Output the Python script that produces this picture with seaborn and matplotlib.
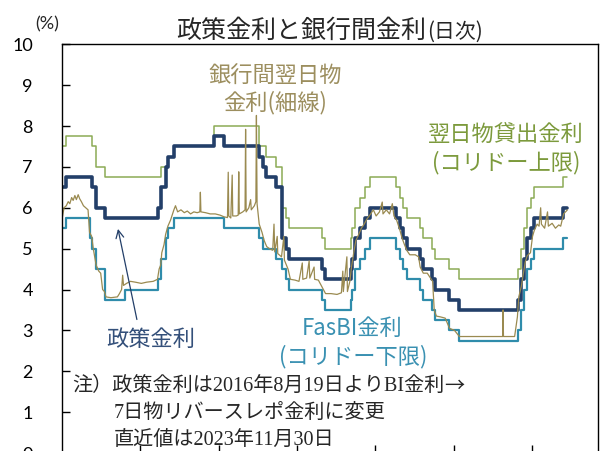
import pandas as pd
import matplotlib
matplotlib.use("Agg")
import matplotlib.pyplot as plt
import matplotlib.dates as mdates
import seaborn as sns

# Policy rate (BI rate, from 2016-08-19 the 7-day reverse repo rate), step changes
policy_dates = ["2011-01-01", "2011-02-04", "2011-10-11", "2011-11-10", "2012-02-09",
                "2013-06-13", "2013-07-11", "2013-08-29", "2013-09-12", "2013-11-12",
                "2014-11-18", "2015-02-17", "2016-01-14", "2016-02-18", "2016-03-17",
                "2016-06-16", "2016-08-19", "2016-09-22", "2016-10-20", "2017-08-22",
                "2017-09-22", "2018-05-17", "2018-05-30", "2018-06-29", "2018-08-15",
                "2018-09-27", "2018-11-15", "2019-07-18", "2019-08-22", "2019-09-19",
                "2019-10-24", "2020-02-20", "2020-03-19", "2020-06-18", "2020-07-16",
                "2020-11-19", "2021-02-18", "2022-08-23", "2022-09-22", "2022-10-20",
                "2022-11-17", "2022-12-22", "2023-01-19", "2023-10-19", "2023-11-30"]
policy_rates = [6.50, 6.75, 6.50, 6.00, 5.75,
                6.00, 6.50, 7.00, 7.25, 7.50,
                7.75, 7.50, 7.25, 7.00, 6.75,
                6.50, 5.25, 5.00, 4.75, 4.50,
                4.25, 4.50, 4.75, 5.25, 5.50,
                5.75, 6.00, 5.75, 5.50, 5.25,
                5.00, 4.75, 4.50, 4.25, 4.00,
                3.75, 3.50, 3.75, 4.25, 4.75,
                5.25, 5.50, 5.75, 6.00, 6.00]

# Overnight lending facility (corridor upper bound)
upper_dates = ["2011-01-01", "2011-02-04", "2011-10-11", "2011-11-10", "2012-02-09",
               "2013-07-11", "2013-09-12", "2013-11-12", "2014-11-18", "2016-01-14",
               "2016-03-17", "2016-06-16", "2016-08-19", "2016-09-22", "2016-10-20",
               "2017-08-22", "2017-09-22", "2018-05-17", "2018-05-30", "2018-06-29",
               "2018-08-15", "2018-09-27", "2018-11-15", "2019-07-18", "2019-08-22",
               "2019-09-19", "2019-10-24", "2020-02-20", "2020-03-19", "2020-06-18",
               "2020-07-16", "2020-11-19", "2021-02-18", "2022-08-23", "2022-09-22",
               "2022-10-20", "2022-11-17", "2022-12-22", "2023-01-19", "2023-10-19",
               "2023-11-30"]
upper_rates = [7.50, 7.75, 7.50, 7.00, 6.75,
               7.00, 7.25, 7.50, 8.00, 7.50,
               7.25, 7.00, 6.00, 5.75, 5.50,
               5.25, 5.00, 5.25, 5.50, 6.00,
               6.25, 6.50, 6.75, 6.50, 6.25,
               6.00, 5.75, 5.50, 5.25, 5.00,
               4.75, 4.50, 4.25, 4.50, 5.00,
               5.50, 6.00, 6.25, 6.50, 6.75,
               6.75]

# FasBI / deposit facility (corridor lower bound)
lower_dates = ["2011-01-01", "2011-02-04", "2011-09-15", "2011-10-11", "2011-11-10",
               "2012-02-09", "2012-08-09", "2013-06-13", "2013-07-11", "2013-08-29",
               "2013-09-12", "2013-11-12", "2015-02-17", "2016-01-14", "2016-02-18",
               "2016-06-16", "2016-08-19", "2016-09-22", "2016-10-20", "2017-08-22",
               "2017-09-22", "2018-05-17", "2018-05-30", "2018-06-29", "2018-08-15",
               "2018-09-27", "2018-11-15", "2019-07-18", "2019-08-22", "2019-09-19",
               "2019-10-24", "2020-02-20", "2020-03-19", "2020-06-18", "2020-07-16",
               "2020-11-19", "2021-02-18", "2022-08-23", "2022-09-22", "2022-10-20",
               "2022-11-17", "2022-12-22", "2023-01-19", "2023-10-19", "2023-11-30"]
lower_rates = [5.50, 5.75, 5.25, 5.00, 4.50,
               3.75, 4.00, 4.25, 4.75, 5.25,
               5.50, 5.75, 5.50, 5.25, 5.00,
               4.75, 4.50, 4.25, 4.00, 3.75,
               3.50, 3.75, 4.00, 4.50, 4.75,
               5.00, 5.25, 5.00, 4.75, 4.50,
               4.25, 4.00, 3.75, 3.50, 3.25,
               3.00, 2.75, 3.00, 3.50, 4.00,
               4.50, 4.75, 5.00, 5.25, 5.25]

# Interbank overnight rate
ib_dates = ["2011-01-03", "2011-01-20", "2011-02-10", "2011-02-28", "2011-03-15",
            "2011-04-01", "2011-04-15", "2011-05-01", "2011-05-15", "2011-06-01",
            "2011-06-15", "2011-07-01", "2011-07-20", "2011-08-10", "2011-09-01",
            "2011-09-15", "2011-10-05", "2011-10-20", "2011-11-15", "2011-12-10",
            "2011-12-28", "2012-01-15", "2012-02-01", "2012-02-15", "2012-04-01",
            "2012-06-01", "2012-06-20", "2012-07-10", "2012-07-20", "2012-07-28",
            "2012-08-25", "2012-10-01", "2012-11-15", "2013-01-10", "2013-03-01",
            "2013-05-01", "2013-06-10", "2013-06-25", "2013-07-10", "2013-07-20",
            "2013-08-10", "2013-08-25", "2013-09-15", "2013-10-10", "2013-11-10",
            "2013-11-25", "2013-12-15", "2014-01-15", "2014-02-15", "2014-03-15",
            "2014-04-15", "2014-05-15", "2014-06-15", "2014-07-10", "2014-07-15",
            "2014-07-20", "2014-09-01", "2014-10-15", "2014-12-01", "2015-01-15",
            "2015-02-20", "2015-03-25", "2015-04-01", "2015-04-06", "2015-04-25",
            "2015-05-08", "2015-05-13", "2015-06-15", "2015-07-03", "2015-07-08",
            "2015-07-13", "2015-08-15", "2015-09-05", "2015-09-10", "2015-09-15",
            "2015-10-10", "2015-10-27", "2015-11-02", "2015-12-01", "2015-12-15",
            "2015-12-20", "2015-12-26", "2016-01-15", "2016-02-10", "2016-03-01",
            "2016-03-25", "2016-04-20", "2016-05-20", "2016-06-01", "2016-06-08",
            "2016-07-01", "2016-07-06", "2016-08-10", "2016-09-01", "2016-09-06",
            "2016-10-10", "2016-11-01", "2016-12-15", "2017-01-20", "2017-02-20",
            "2017-02-25", "2017-04-01", "2017-04-25", "2017-05-01", "2017-06-10",
            "2017-06-15", "2017-07-20", "2017-08-25", "2017-09-25", "2017-11-15",
            "2018-01-10", "2018-02-20", "2018-03-05", "2018-03-10", "2018-04-12",
            "2018-04-17", "2018-05-10", "2018-05-25", "2018-06-15", "2018-07-05",
            "2018-08-01", "2018-08-25", "2018-09-20", "2018-10-15", "2018-11-20",
            "2018-12-15", "2019-01-10", "2019-02-10", "2019-03-08", "2019-03-15",
            "2019-04-15", "2019-05-15", "2019-06-10", "2019-06-25", "2019-07-20",
            "2019-08-20", "2019-09-10", "2019-10-01", "2019-10-25", "2019-11-20",
            "2020-01-10", "2020-02-10", "2020-02-25", "2020-03-25", "2020-05-01",
            "2020-06-20", "2020-07-05", "2020-07-25", "2020-09-01", "2020-10-15",
            "2020-11-25", "2021-01-10", "2021-02-25", "2021-07-01", "2022-01-01",
            "2022-04-05", "2022-04-08", "2022-04-12", "2022-07-25", "2022-08-20",
            "2022-09-02", "2022-09-25", "2022-11-01", "2022-11-20", "2022-12-20",
            "2023-01-08", "2023-01-25", "2023-02-20", "2023-03-10", "2023-03-25",
            "2023-04-01", "2023-05-01", "2023-05-28", "2023-06-05", "2023-07-10",
            "2023-08-10", "2023-09-10", "2023-09-28", "2023-10-25", "2023-11-30"]
ib_rates = [5.75, 6.00, 6.05, 6.15, 6.10,
            6.25, 6.18, 6.30, 6.20, 6.32,
            6.22, 6.15, 6.05, 6.00, 5.95,
            5.40, 5.30, 5.00, 4.60, 4.45,
            4.40, 4.00, 3.95, 3.82, 3.80,
            3.82, 3.90, 4.00, 4.35, 4.10,
            4.15, 4.20, 4.18, 4.15, 4.18,
            4.20, 4.25, 4.50, 4.60, 4.90,
            5.10, 5.35, 5.55, 5.70, 5.95,
            6.05, 5.90, 5.95, 5.88, 5.92,
            5.85, 5.90, 5.88, 5.90, 6.38,
            5.90, 5.88, 5.85, 5.85, 5.82,
            5.78, 5.76, 6.87, 5.80, 5.75,
            6.80, 5.80, 5.80, 5.82, 6.88,
            5.85, 5.90, 5.95, 7.92, 5.90,
            6.00, 6.20, 5.95, 6.05, 6.15,
            8.26, 6.10, 5.60, 5.40, 5.20,
            5.05, 5.00, 4.96, 5.60, 4.92,
            5.30, 4.88, 4.80, 5.30, 4.72,
            4.50, 4.25, 4.23, 4.20, 4.65,
            4.25, 4.28, 4.70, 4.28, 4.55,
            4.25, 4.23, 4.05, 3.90, 3.90,
            3.88, 3.92, 4.45, 3.95, 4.80,
            3.95, 4.20, 4.55, 4.90, 5.20,
            5.35, 5.50, 5.60, 5.72, 5.85,
            5.95, 5.80, 5.90, 6.14, 5.85,
            5.95, 5.85, 6.10, 5.80, 5.70,
            5.45, 5.25, 5.10, 4.95, 4.85,
            4.85, 4.80, 4.55, 4.40, 4.40,
            4.20, 3.50, 3.35, 3.33, 3.30,
            3.05, 3.00, 2.85, 2.85, 2.85,
            2.85, 3.50, 2.85, 2.85, 3.33,
            3.82, 4.07, 4.67, 4.83, 4.90,
            5.30, 5.45, 5.60, 5.55, 6.00,
            5.60, 5.50, 5.90, 5.55, 5.62,
            5.50, 5.58, 5.55, 5.85, 5.95]

NAVY = "#233f69"
GREEN = "#8cab55"
TEAL = "#2f8cab"
OLIVE = "#9a8a50"
JP = "Noto Sans CJK JP"

sns.set_style("ticks")
plt.rcParams["font.family"] = ["Lato", JP, "DejaVu Sans"]

fig = plt.figure(figsize=(6.13, 4.51), dpi=100)
ax = fig.add_axes([62 / 613, -2 / 451, 536 / 613, 408.7 / 451])


def px(x, y):
    return x / 613, 1 - y / 451


def frame(dates, values):
    return pd.DataFrame({"date": pd.to_datetime(dates), "rate": values})


sns.lineplot(data=frame(upper_dates, upper_rates), x="date", y="rate",
             drawstyle="steps-post", color=GREEN, lw=1.1, ax=ax, legend=False)
sns.lineplot(data=frame(lower_dates, lower_rates), x="date", y="rate",
             drawstyle="steps-post", color=TEAL, lw=1.6, ax=ax, legend=False)
sns.lineplot(data=frame(policy_dates, policy_rates), x="date", y="rate",
             drawstyle="steps-post", color=NAVY, lw=2.6, ax=ax, legend=False)
sns.lineplot(data=frame(ib_dates, ib_rates), x="date", y="rate",
             color=OLIVE, lw=0.9, ax=ax, legend=False)

ax.set_xlim(pd.Timestamp("2011-01-01"), pd.Timestamp("2024-09-10"))
ax.set_ylim(0, 10)
ax.set_yticks(range(0, 11))
ax.set_xticks(pd.to_datetime([f"{y}-01-01" for y in range(2013, 2024, 2)]))
ax.set_xticklabels([])
ax.set_xlabel("")
ax.set_ylabel("")
ax.tick_params(direction="in", length=6, width=1, colors="black")
ax.tick_params(axis="y", pad=21, labelsize=13)
for s in ax.spines.values():
    s.set_visible(True)
    s.set_color("black")
    s.set_linewidth(1)

# title and unit
fig.text(*px(426, 31), "政策金利と銀行間金利", ha="right", va="center",
         fontsize=18, family=JP)
fig.text(*px(427, 32), "(日次)", ha="left", va="center", fontsize=15, family=JP)
fig.text(*px(47, 24), "(%)", ha="center", va="center", fontsize=13)

# series labels
lab = dict(ha="center", va="center", fontsize=16, family=JP)
fig.text(*px(275, 76), "銀行間翌日物", color="#9c8e5e", **lab)
fig.text(*px(275, 103), "金利(細線)", color="#9c8e5e", **lab)
fig.text(*px(506, 134), "翌日物貸出金利", color="#7c9a3c", **lab)
fig.text(*px(506, 163), "(コリドー上限)", color="#7c9a3c", **lab)
fig.text(*px(352, 328), "FasBI金利", color="#3a91b2", **lab)
fig.text(*px(353, 357), "(コリドー下限)", color="#3a91b2", **lab)
fig.text(*px(151, 339), "政策金利", color="#34507a", **lab)

ax.annotate("", xy=(mdates.date2num(pd.Timestamp("2012-06-01")), 5.55),
            xytext=(mdates.date2num(pd.Timestamp("2012-12-05")), 3.2),
            arrowprops=dict(arrowstyle="->", color=NAVY, lw=0.9, mutation_scale=14))

# note
note_font = ["Liberation Serif", JP]
note1 = fig.text(*px(72, 386), "注）政策金利は2016年8月19日よりBI金利",
                 ha="left", va="center", fontsize=14.5, family=note_font)
ax.annotate("→", xy=(1, 0.5), xycoords=note1, ha="left", va="center",
            fontsize=14.5, family=JP)
fig.text(*px(114, 413), "7日物リバースレポ金利に変更", ha="left",
         va="center", fontsize=14.5, family=note_font)
fig.text(*px(114, 440), "直近値は2023年11月30日", ha="left",
         va="center", fontsize=14.5, family=note_font)

fig.savefig("out.png", dpi=100)
